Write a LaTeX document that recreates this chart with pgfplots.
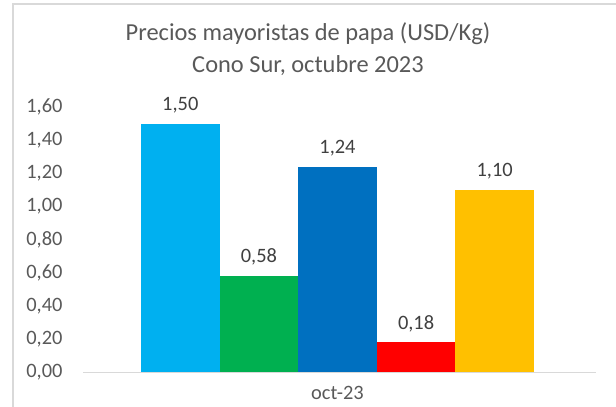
\documentclass[border=0pt]{standalone}
\usepackage{pgfplots}
\pgfplotsset{compat=1.18}
\usepackage{fontspec}
\setmainfont{Carlito}
\definecolor{cLB}{RGB}{0,176,240}
\definecolor{cGR}{RGB}{0,176,80}
\definecolor{cBL}{RGB}{0,112,192}
\definecolor{cRD}{RGB}{255,0,0}
\definecolor{cGD}{RGB}{255,192,0}
\definecolor{txt}{RGB}{89,89,89}
\definecolor{lbl}{RGB}{64,64,64}
\definecolor{brd}{RGB}{217,217,217}
\begin{document}
\begin{tikzpicture}
\path[use as bounding box] (0,0) rectangle (616bp,407bp);
\begin{scope}
\clip (0,0) rectangle (616bp,407bp);
\draw[brd, line width=2.5bp] (13bp,-10bp) -- (13bp,403bp) -- (640bp,403bp);
\end{scope}
\node[txt, align=center, font=\fontsize{24.5}{32}\selectfont] at (308bp,358bp) {Precios mayoristas de papa (USD/Kg)\\Cono Sur, octubre 2023};
\begin{axis}[
  at={(83bp,35bp)}, anchor=south west,
  scale only axis, width=513bp, height=265bp,
  xmin=-1.238, xmax=5.289,
  ymin=0, ymax=1.6,
  ytick={0,0.2,...,1.6},
  xtick={2}, xticklabels={oct-23},
  axis x line*=bottom, axis y line*=left,
  x axis line style={draw=brd, line width=1pt, -},
  y axis line style={draw=none},
  tick style={draw=none},
  ybar, bar width=1, bar shift=0,
  every axis plot/.append style={draw=none},
  /pgf/number format/assume math mode=true,
  /pgf/number format/.cd, use comma, fixed, fixed zerofill, precision=2, 1000 sep={},
  /pgfplots/.cd,
  yticklabel style={txt, font=\fontsize{20.5}{24}\selectfont, xshift=-17bp},
  xticklabel style={txt, font=\fontsize{20.5}{24}\selectfont, yshift=-6bp},
  nodes near coords,
  nodes near coords style={lbl, font=\fontsize{20.5}{24}\selectfont, /pgf/number format/.cd, use comma, fixed, fixed zerofill, precision=2, assume math mode=true, /tikz/.cd, yshift=7bp},
  clip=false,
]
\addplot[fill=cLB] coordinates {(0,1.50)};
\addplot[fill=cGR] coordinates {(1,0.58)};
\addplot[fill=cBL] coordinates {(2,1.24)};
\addplot[fill=cRD] coordinates {(3,0.18)};
\addplot[fill=cGD] coordinates {(4,1.10)};
\end{axis}
\end{tikzpicture}
\end{document}
